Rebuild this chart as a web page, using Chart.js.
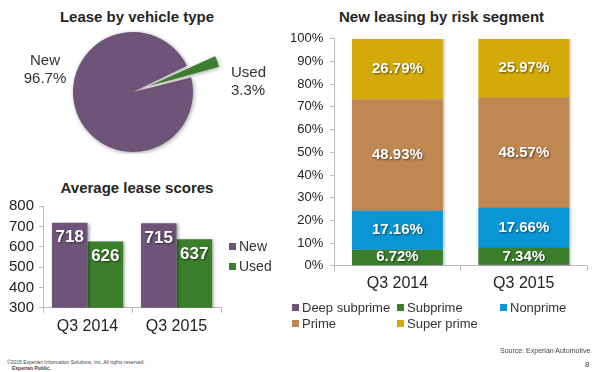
<!DOCTYPE html>
<html>
<head>
<meta charset="utf-8">
<script src="https://cdn.jsdelivr.net/npm/chart.js@4/dist/chart.umd.min.js"></script>
<style>
  body { margin:0; width:600px; height:372px; background:#fff; position:relative; overflow:hidden;
         font-family:"Liberation Sans", Arial, sans-serif; color:#333; }
  canvas { position:absolute; }
  .titulo { position:absolute; font-weight:bold; font-size:15px; line-height:18px; color:#262626;
            text-align:center; white-space:nowrap; }
  .legenda { position:absolute; }
  .item { position:absolute; white-space:nowrap; line-height:16px; color:#333; }
  .item i { display:inline-block; width:7px; height:7px; margin-right:3px; vertical-align:1px; }
  .nota { position:absolute; white-space:nowrap; color:#444; }
</style>
</head>
<body>
<div class="titulo" style="left:37px; top:8px; width:200px;">Lease by vehicle type</div>
<div class="titulo" style="left:37px; top:179px; width:200px;">Average lease scores</div>
<div class="titulo" style="left:339px; top:8px; width:200px;">New leasing by risk segment</div>

<canvas id="graficoPizza" width="300" height="124" style="left:0; top:30px;"></canvas>
<canvas id="graficoScores" width="230" height="148" style="left:0; top:192px;"></canvas>
<canvas id="graficoRisco" width="319" height="272" style="left:281px; top:24px;"></canvas>

<div class="legenda" id="legendaScores"></div>
<div class="legenda" id="legendaRisco"></div>

<div class="nota" style="left:7px; top:359px; font-size:5px;">©2015 Experian Information Solutions, Inc. All rights reserved.</div>
<div class="nota" style="left:12px; top:365px; font-size:5px; font-weight:bold;">Experian Public.</div>
<div class="nota" style="left:500px; top:347px; font-size:7px;">Source: Experian Automotive</div>
<div class="nota" style="left:585px; top:360px; font-size:8px;">8</div>

<script>
// ===================== DADOS =====================
const tipos = ["New", "Used"];
const participacao = [96.7, 3.3];

const trimestres = ["Q3 2014", "Q3 2015"];
const scoreNovo = [718, 715];
const scoreUsado = [626, 637];

const segmentos = ["Deep subprime", "Subprime", "Nonprime", "Prime", "Super prime"];
const deepSubprime = [0.40, 0.46];
const subprime = [6.72, 7.34];
const nonprime = [17.16, 17.66];
const prime = [48.93, 48.57];
const superPrime = [26.79, 25.97];

const roxo = "#6e5478";
const verde = "#3b7f2c";
const coresRisco = ["#6e5478", "#3b7f2c", "#0a96d6", "#bf8752", "#d4aa0a"];

const fonte = "'Liberation Sans', Arial, sans-serif";
Chart.defaults.font.family = fonte;
Chart.defaults.color = "#222";

// sombra leve nas barras / fatias
function criarSombra(dx, dy, blur, alpha) {
  return {
    id: "sombra",
    beforeDatasetsDraw(chart) {
      const c = chart.ctx;
      c.save();
      c.shadowColor = `rgba(0,0,0,${alpha})`;
      c.shadowBlur = blur;
      c.shadowOffsetX = dx;
      c.shadowOffsetY = dy;
    },
    afterDatasetsDraw(chart) {
      chart.ctx.restore();
    }
  };
}

function textoBranco(ctx, texto, x, y, tamanho) {
  ctx.save();
  ctx.font = `bold ${tamanho}px ${fonte}`;
  ctx.fillStyle = "#fff";
  ctx.textAlign = "center";
  ctx.textBaseline = "middle";
  ctx.shadowColor = "rgba(0,0,0,0.55)";
  ctx.shadowBlur = 2;
  ctx.shadowOffsetX = 1;
  ctx.shadowOffsetY = 1;
  ctx.fillText(texto, x, y);
  ctx.restore();
}

// ===================== PIZZA =====================
const rotulosPizza = {
  id: "rotulosPizza",
  afterDatasetsDraw(chart) {
    const ctx = chart.ctx;
    const arcos = chart.getDatasetMeta(0).data;
    ctx.save();
    ctx.font = `15px ${fonte}`;
    ctx.fillStyle = "#333";
    ctx.textBaseline = "middle";
    arcos.forEach((arco, i) => {
      const { x, y, outerRadius } = arco.getProps(["x", "y", "outerRadius"], true);
      let lx, ly;
      if (i === 0) {
        ctx.textAlign = "center";
        lx = x - outerRadius - 28; // à esquerda da pizza
        ly = y - 31;
      } else {
        ctx.textAlign = "left";
        lx = x + outerRadius + 38;
        ly = y - 19;
      }
      ctx.fillText(tipos[i], lx, ly);
      ctx.fillText(participacao[i].toFixed(1) + "%", lx, ly + 18);
    });
    ctx.restore();
  }
};

new Chart(document.getElementById("graficoPizza"), {
  type: "pie",
  data: {
    labels: tipos,
    datasets: [{
      data: participacao,
      backgroundColor: [roxo, verde],
      borderWidth: 0,
      offset: [0, 66]
    }]
  },
  options: {
    responsive: false,
    animation: false,
    radius: 60,
    rotation: 76,
    layout: { padding: { right: 34 } },
    plugins: { legend: { display: false }, tooltip: { enabled: false } }
  },
  plugins: [criarSombra(1, 1, 4, 0.35), rotulosPizza]
});

// ===================== SCORES =====================
const valoresScore = {
  id: "valoresScore",
  afterDatasetsDraw(chart) {
    chart.data.datasets.forEach((ds, d) => {
      chart.getDatasetMeta(d).data.forEach((barra, i) => {
        textoBranco(chart.ctx, String(ds.data[i]), barra.x, barra.y + 15, 17);
      });
    });
  }
};

const graficoScores = new Chart(document.getElementById("graficoScores"), {
  type: "bar",
  data: {
    labels: trimestres,
    datasets: [
      { label: "New", data: scoreNovo, backgroundColor: roxo },
      { label: "Used", data: scoreUsado, backgroundColor: verde }
    ]
  },
  options: {
    responsive: false,
    animation: false,
    layout: { padding: { left: 4, right: 9, top: 4, bottom: 0 } },
    datasets: { bar: { categoryPercentage: 0.8, barPercentage: 1 } },
    plugins: { legend: { display: false }, tooltip: { enabled: false } },
    scales: {
      x: {
        grid: { drawOnChartArea: false, tickLength: 5, color: "#bbb" },
        border: { color: "#bbb" },
        ticks: { font: { size: 16 }, color: "#222", padding: 4 }
      },
      y: {
        min: 300,
        max: 800,
        ticks: { stepSize: 100, autoSkip: false, font: { size: 15 }, color: "#222", padding: 5 },
        grid: { drawOnChartArea: false, tickLength: 4, color: "#bbb" },
        border: { color: "#bbb" }
      }
    }
  },
  plugins: [criarSombra(2, 1, 3, 0.35), valoresScore]
});

// ===================== RISCO =====================
const valoresRisco = {
  id: "valoresRisco",
  afterDatasetsDraw(chart) {
    chart.data.datasets.forEach((ds, d) => {
      chart.getDatasetMeta(d).data.forEach((barra, i) => {
        if (ds.data[i] < 2) return;
        const meio = (barra.y + barra.base) / 2;
        textoBranco(chart.ctx, ds.data[i].toFixed(2) + "%", barra.x, meio, 15);
      });
    });
  }
};

const seriesRisco = [deepSubprime, subprime, nonprime, prime, superPrime];

const graficoRisco = new Chart(document.getElementById("graficoRisco"), {
  type: "bar",
  data: {
    labels: trimestres,
    datasets: segmentos.map((nome, i) => ({
      label: nome,
      data: seriesRisco[i],
      backgroundColor: coresRisco[i]
    }))
  },
  options: {
    responsive: false,
    animation: false,
    layout: { padding: { left: 2, right: 13, top: 4, bottom: 0 } },
    datasets: { bar: { categoryPercentage: 0.72, barPercentage: 1 } },
    plugins: { legend: { display: false }, tooltip: { enabled: false } },
    scales: {
      x: {
        stacked: true,
        grid: { drawOnChartArea: false, tickLength: 5, color: "#bbb" },
        border: { color: "#bbb" },
        ticks: { font: { size: 16 }, color: "#222", padding: 3 }
      },
      y: {
        stacked: true,
        min: 0,
        max: 100,
        ticks: { stepSize: 10, autoSkip: false, font: { size: 13 }, color: "#222", padding: 7,
                 callback: (v) => v + "%" },
        grid: { drawOnChartArea: false, tickLength: 4, color: "#bbb" },
        border: { color: "#bbb" }
      }
    }
  },
  plugins: [criarSombra(2, 0, 2, 0.2), valoresRisco]
});

// ===================== LEGENDAS =====================
function montarLegenda(chart, alvo, posicoes, tamanho) {
  const el = document.getElementById(alvo);
  chart.data.datasets.forEach((ds, i) => {
    const p = posicoes[i];
    el.innerHTML += `<div class="item" style="left:${p[0]}px; top:${p[1]}px; font-size:${tamanho}px;">` +
      `<i style="background:${ds.backgroundColor}"></i>${ds.label}</div>`;
  });
}

montarLegenda(graficoScores, "legendaScores", [[229, 238], [229, 258]], 14);
montarLegenda(graficoRisco, "legendaRisco",
  [[292, 300], [397, 300], [500, 300], [292, 316], [397, 316]], 13);
</script>
</body>
</html>
